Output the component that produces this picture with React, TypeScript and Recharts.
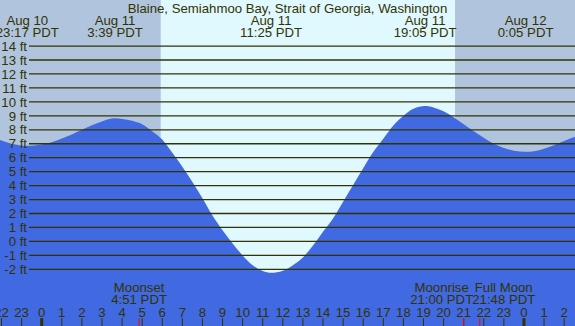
import React from "react";
import {
  ComposedChart,
  Area,
  XAxis,
  YAxis,
  ReferenceArea,
  ReferenceLine,
  Customized,
} from "recharts";

// tide height (ft), hours relative to Aug 11 00:00
const tideHours = [
  -2.075, -1.5, -0.72, 0, 0.5, 1, 1.5, 2, 2.5, 3, 3.65, 4, 4.5, 5, 5.5, 6, 6.5, 7, 7.5, 8, 8.5, 9,
  9.5, 10, 10.5, 11, 11.42, 12, 12.5, 13, 13.5, 14, 14.5, 15, 15.5, 16, 16.5, 17, 17.5, 18, 18.5,
  19.08, 19.5, 20, 20.5, 21, 21.5, 22, 22.5, 23, 23.5, 24.08, 24.5, 25, 25.5, 26, 26.54,
];
const tideHeights = [
  7.27, 7.0, 6.85, 6.95, 7.1, 7.38, 7.67, 8.0, 8.33, 8.6, 8.82, 8.78, 8.65, 8.4, 7.9, 7.3, 6.35,
  5.35, 4.25, 3.1, 1.85, 0.8, -0.15, -1.0, -1.7, -2.12, -2.25, -2.1, -1.7, -1.15, -0.3, 0.7, 1.65,
  2.85, 4.05, 5.25, 6.4, 7.35, 8.3, 9.0, 9.5, 9.7, 9.6, 9.32, 8.9, 8.4, 7.9, 7.43, 7.0, 6.7, 6.5,
  6.42, 6.47, 6.65, 6.9, 7.2, 7.5,
];

const ftLevels = [-2, -1, 0, 1, 2, 3, 4, 5, 6, 7, 8, 9, 10, 11, 12, 13, 14];
const hourTicks = [
  -2, -1, 0, 1, 2, 3, 4, 5, 6, 7, 8, 9, 10, 11, 12, 13, 14, 15, 16, 17, 18, 19, 20, 21, 22, 23, 24,
  25, 26,
];

const tideEventHours = [-0.717, 3.65, 11.417, 19.083, 24.083];
const tideEventDates = ["Aug 10", "Aug 11", "Aug 11", "Aug 11", "Aug 12"];
const tideEventTimes = ["23:17 PDT", "3:39 PDT", "11:25 PDT", "19:05 PDT", "0:05 PDT"];

const moonEventHours = [4.85, 21.0, 21.8];
const moonEventNames = ["Moonset", "Moonrise", "Full Moon"];
const moonEventTimes = ["4:51 PDT", "21:00 PDT", "21:48 PDT"];

const sunriseHour = 5.93;
const sunsetHour = 20.57;

const tideData = tideHours.map((h, i) => ({ h, ft: tideHeights[i] }));

const X_MIN = -2.075;
const X_MAX = 26.54;
const Y_MIN = -6.06;
const Y_MAX = 17.3;
const TICK_TOP = -5.5;

const FONT = "'Liberation Sans', Arial, sans-serif";
const FS = 13.2;
const TEXT = "#333300";
const NIGHT = "#b0c4de";
const DAY = "#e0f8ff";
const WATER = "#4169e1";
const LABEL_SHIFT = [0, -22, 24];

export default function App() {
  return (
    <div style={{ width: 575, height: 326 }}>
      <style>{"body{margin:0}"}</style>
      <ComposedChart
        width={575}
        height={326}
        data={tideData}
        margin={{ top: 0, right: 0, bottom: 0, left: 0 }}
      >
        <XAxis dataKey="h" type="number" domain={[X_MIN, X_MAX]} allowDataOverflow hide height={0} />
        <YAxis type="number" domain={[Y_MIN, Y_MAX]} allowDataOverflow hide width={0} />
        <ReferenceArea x1={X_MIN} x2={sunriseHour} fill={NIGHT} fillOpacity={1} stroke="none" zIndex={-100} />
        <ReferenceArea x1={sunriseHour} x2={sunsetHour} fill={DAY} fillOpacity={1} stroke="none" zIndex={-100} />
        <ReferenceArea x1={sunsetHour} x2={X_MAX} fill={NIGHT} fillOpacity={1} stroke="none" zIndex={-100} />
        <Area
          dataKey="ft"
          type="monotone"
          baseValue="dataMin"
          fill={WATER}
          fillOpacity={1}
          stroke="none"
          dot={false}
          activeDot={false}
          isAnimationActive={false}
        />
        {ftLevels.map((v) => (
          <ReferenceLine
            key={v}
            segment={[
              { x: -0.632, y: v },
              { x: X_MAX, y: v },
            ]}
            stroke={TEXT}
            strokeWidth={1.3}
            zIndex={600}
            label={{
              value: `${v} ft`,
              position: "left",
              offset: 2,
              fill: TEXT,
              fontSize: FS,
              fontFamily: FONT,
            }}
          />
        ))}
        {hourTicks.map((h) => {
          const label = ((h % 24) + 24) % 24;
          return (
            <ReferenceLine
              key={"h" + h}
              segment={[
                { x: h, y: TICK_TOP },
                { x: h, y: Y_MIN },
              ]}
              ifOverflow="visible"
              stroke={TEXT}
              strokeWidth={label === 0 ? 3 : 1}
              zIndex={600}
              label={(p: any) => (
                <text
                  x={p.viewBox.x}
                  y={316.5}
                  textAnchor="middle"
                  fontFamily={FONT}
                  fontSize={FS}
                  fill={TEXT}
                >
                  {label}
                </text>
              )}
            />
          );
        })}
        {moonEventHours.map((h) => (
          <ReferenceLine
            key={"m" + h}
            segment={[
              { x: h, y: TICK_TOP },
              { x: h, y: Y_MIN },
            ]}
            stroke="#ff0000"
            zIndex={600}
          />
        ))}
        {tideEventHours.map((h, i) => (
          <ReferenceLine
            key={"t" + h}
            x={h}
            stroke="none"
            zIndex={600}
            label={(p: any) => (
              <g fontFamily={FONT} fontSize={FS} fill={TEXT} textAnchor="middle">
                <text x={p.viewBox.x} y={24.5}>{tideEventDates[i]}</text>
                <text x={p.viewBox.x} y={36.5}>{tideEventTimes[i]}</text>
              </g>
            )}
          />
        ))}
        {moonEventHours.map((h, i) => (
          <ReferenceLine
            key={"ml" + h}
            x={h}
            stroke="none"
            zIndex={600}
            label={(p: any) => (
              <g fontFamily={FONT} fontSize={FS} fill={TEXT} textAnchor="middle">
                <text x={p.viewBox.x + LABEL_SHIFT[i]} y={291.5}>{moonEventNames[i]}</text>
                <text x={p.viewBox.x + LABEL_SHIFT[i]} y={303.5}>{moonEventTimes[i]}</text>
              </g>
            )}
          />
        ))}
        <Customized
          component={() => (
            <text x={287.5} y={12.5} textAnchor="middle" fontFamily={FONT} fontSize={FS} fill={TEXT}>
              Blaine, Semiahmoo Bay, Strait of Georgia, Washington
            </text>
          )}
        />
      </ComposedChart>
    </div>
  );
}
